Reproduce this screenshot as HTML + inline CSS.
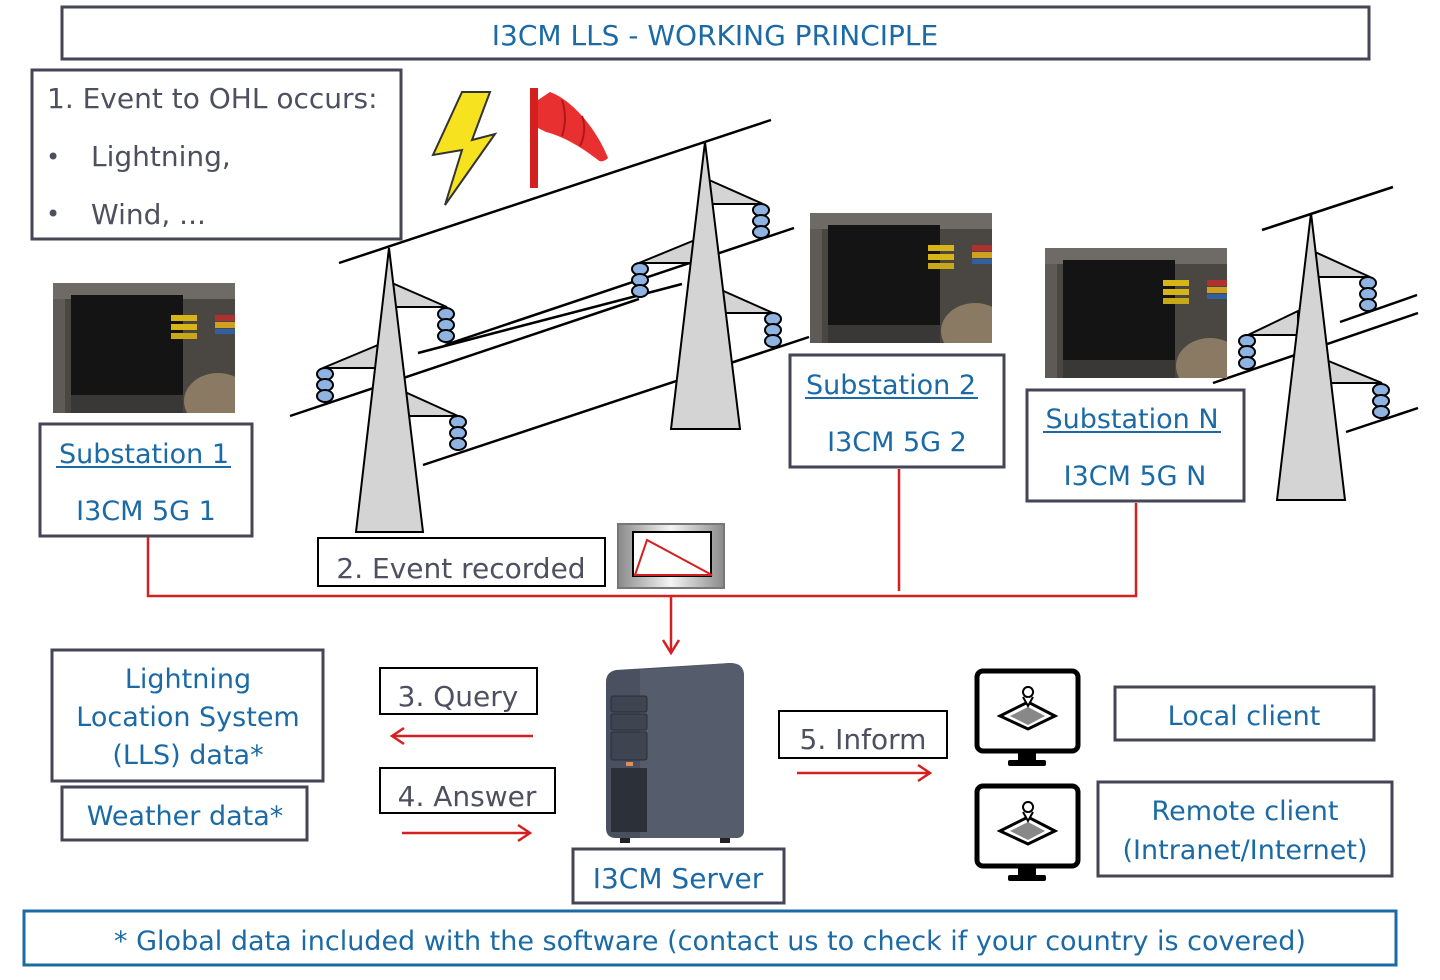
<!DOCTYPE html>
<html><head><meta charset="utf-8"><style>
html,body{margin:0;padding:0;background:#fff;width:1440px;height:980px;overflow:hidden}
svg{display:block}
text{font-family:"DejaVu Sans","Liberation Sans",sans-serif}
.b{fill:#1b6aa5}
.g{fill:#4e5060}
</style></head><body>
<svg width="1440" height="980" viewBox="0 0 1440 980" xmlns="http://www.w3.org/2000/svg">
<defs>
<clipPath id="pc"><rect x="0" y="0" width="182" height="130"/></clipPath>
<g id="photo">
<g clip-path="url(#pc)">
<rect x="0" y="0" width="182" height="130" fill="#4a4642"/>
<rect x="0" y="0" width="182" height="16" fill="#6e6a66"/>
<rect x="18" y="12" width="112" height="100" fill="#141414"/>
<rect x="118" y="32" width="26" height="6" fill="#d8b418"/>
<rect x="118" y="41" width="26" height="6" fill="#d8b418"/>
<rect x="118" y="50" width="26" height="6" fill="#c8a818"/>
<rect x="162" y="32" width="20" height="6" fill="#b03030"/>
<rect x="162" y="39" width="20" height="6" fill="#d0a020"/>
<rect x="162" y="46" width="20" height="5" fill="#3060a0"/>
<ellipse cx="165" cy="118" rx="34" ry="28" fill="#8a7a64"/>
<rect x="0" y="16" width="12" height="114" fill="#5e5a56"/>
<rect x="18" y="112" width="112" height="18" fill="#3a3836"/>
</g>
</g>
<g id="ins"><ellipse cx="0" cy="6" rx="8" ry="6" fill="#8fb4e2" stroke="#000" stroke-width="2"/><ellipse cx="0" cy="17" rx="8" ry="6" fill="#8fb4e2" stroke="#000" stroke-width="2"/><ellipse cx="0" cy="28" rx="8" ry="6" fill="#8fb4e2" stroke="#000" stroke-width="2"/></g>
<g id="mon">
<rect x="2" y="2" width="101" height="80" rx="6" fill="#fff" stroke="#000" stroke-width="5"/>
<rect x="43" y="82" width="18" height="10" fill="#000"/>
<rect x="33" y="91" width="38" height="6" rx="2" fill="#000"/>
<path d="M25 47 L53 33 L80 47 L53 60 Z" fill="#fff" stroke="#000" stroke-width="3"/>
<path d="M35 47 L53 38 L70 47 L53 56 Z" fill="#888"/>
<path d="M53 28 a5 5 0 1 1 0.1 0 M48 28 L53 37 L58 28" fill="#fff" stroke="#000" stroke-width="2"/>
</g>
</defs>

<!-- title -->
<rect x="62" y="7" width="1307" height="52" fill="none" stroke="#454555" stroke-width="3"/>
<text x="715" y="45" text-anchor="middle" class="b" font-size="28">I3CM LLS - WORKING PRINCIPLE</text>

<!-- box 1 -->
<rect x="32" y="70" width="369" height="169" fill="none" stroke="#454555" stroke-width="3"/>
<text x="47" y="108" class="g" font-size="28">1. Event to OHL occurs:</text>
<text x="46" y="165" class="g" font-size="24">•</text>
<text x="91" y="166" class="g" font-size="28">Lightning,</text>
<text x="46" y="222" class="g" font-size="24">•</text>
<text x="91" y="224" class="g" font-size="28">Wind, ...</text>

<!-- lightning -->
<path d="M462 92 L490 92 L472 140 L495 134 L445 205 L462 150 L433 155 Z" fill="#f6e21e" stroke="#333" stroke-width="2"/>
<!-- windsock -->
<rect x="530" y="88" width="8" height="100" fill="#d52020"/>
<path d="M538 100 L550 92 C572 100 596 128 608 158 C604 162 600 162 598 160 C580 146 562 136 546 132 L538 128 Z" fill="#e83030"/>
<path d="M562 100 C566 112 566 124 562 136 M582 116 C586 126 584 138 580 146" stroke="#b01818" stroke-width="2" fill="none"/>

<!-- tower lines -->
<g stroke="#000" stroke-width="2.5" fill="none">
<line x1="339" y1="263" x2="771" y2="120"/>
<line x1="290" y1="416" x2="639" y2="299"/>
<line x1="445" y1="345" x2="794" y2="228"/>
<line x1="418" y1="353" x2="682" y2="284"/>
<line x1="423" y1="465" x2="809" y2="337"/>
<line x1="1262" y1="230" x2="1393" y2="187"/>
<line x1="1213" y1="383" x2="1418" y2="313"/>
<line x1="1340" y1="322" x2="1417" y2="295"/>
<line x1="1346" y1="432" x2="1418" y2="408"/>
</g>
<g fill="#d4d4d4" stroke="#000" stroke-width="2">
<path d="M392 283 L447 307 L392 307 Z"/>
<path d="M378 345 L323 368 L378 368 Z"/>
<path d="M405 392 L458 416 L405 416 Z"/>
<path d="M389 248 L423 532 L356 532 Z"/>
<path d="M709 180 L763 204 L709 204 Z"/>
<path d="M695 240 L639 263 L695 263 Z"/>
<path d="M719 289 L773 313 L719 313 Z"/>
<path d="M705 142 L740 429 L671 429 Z"/>
<path d="M1315 252 L1370 277 L1315 277 Z"/>
<path d="M1298 311 L1248 335 L1298 335 Z"/>
<path d="M1326 360 L1382 383 L1326 383 Z"/>
<path d="M1311 213 L1345 500 L1277 500 Z"/>
</g>
<use href="#ins" x="446" y="308"/>
<use href="#ins" x="325" y="368"/>
<use href="#ins" x="458" y="416"/>
<use href="#ins" x="761" y="204"/>
<use href="#ins" x="640" y="263"/>
<use href="#ins" x="773" y="313"/>
<use href="#ins" x="1368" y="277"/>
<use href="#ins" x="1247" y="335"/>
<use href="#ins" x="1381" y="384"/>

<!-- photos -->
<use href="#photo" x="53" y="283"/>
<use href="#photo" x="810" y="213"/>
<use href="#photo" x="1045" y="248"/>

<!-- substation boxes -->
<rect x="40" y="424" width="212" height="112" fill="#fff" stroke="#454555" stroke-width="3"/>
<text x="144" y="463" text-anchor="middle" class="b" font-size="27">Substation 1</text>
<line x1="56" y1="467" x2="231" y2="467" stroke="#1b6aa5" stroke-width="2"/>
<text x="146" y="520" text-anchor="middle" class="b" font-size="27">I3CM 5G 1</text>

<rect x="790" y="355" width="214" height="112" fill="#fff" stroke="#454555" stroke-width="3"/>
<text x="891" y="394" text-anchor="middle" class="b" font-size="27">Substation 2</text>
<line x1="805" y1="398" x2="978" y2="398" stroke="#1b6aa5" stroke-width="2"/>
<text x="897" y="451" text-anchor="middle" class="b" font-size="27">I3CM 5G 2</text>

<rect x="1027" y="390" width="217" height="111" fill="#fff" stroke="#454555" stroke-width="3"/>
<text x="1132" y="428" text-anchor="middle" class="b" font-size="27">Substation N</text>
<line x1="1043" y1="432" x2="1221" y2="432" stroke="#1b6aa5" stroke-width="2"/>
<text x="1135" y="485" text-anchor="middle" class="b" font-size="27">I3CM 5G N</text>

<!-- red bus -->
<g stroke="#d42020" stroke-width="2.5" fill="none">
<polyline points="148,537 148,596 1136,596 1136,503"/>
<line x1="899" y1="469" x2="899" y2="591"/>
<line x1="671" y1="596" x2="671" y2="652"/>
<polyline points="663,640 671,653 679,640"/>
<line x1="392" y1="736" x2="533" y2="736"/>
<polyline points="404,728 392,736 404,744"/>
<line x1="402" y1="833" x2="530" y2="833"/>
<polyline points="518,825 530,833 518,841"/>
<line x1="797" y1="773" x2="930" y2="773"/>
<polyline points="918,765 930,773 918,781"/>
</g>

<!-- event recorded -->
<rect x="318" y="538" width="287" height="48" fill="#fff" stroke="#000" stroke-width="2"/>
<text x="461" y="578" text-anchor="middle" class="g" font-size="28">2. Event recorded</text>
<defs><linearGradient id="gr" x1="0" x2="1"><stop offset="0" stop-color="#8a8a8a"/><stop offset="0.5" stop-color="#f4f4f4"/><stop offset="1" stop-color="#8a8a8a"/></linearGradient></defs>
<rect x="618" y="524" width="106" height="64" fill="url(#gr)" stroke="#777" stroke-width="2"/>
<rect x="633" y="532" width="78" height="44" fill="#fff" stroke="#000" stroke-width="2"/>
<path d="M635 575 L647 540 L712 575 Z" fill="none" stroke="#d42020" stroke-width="2"/>

<!-- LLS -->
<rect x="52" y="650" width="271" height="131" fill="none" stroke="#454555" stroke-width="3"/>
<text x="188" y="688" text-anchor="middle" class="b" font-size="27">Lightning</text>
<text x="188" y="726" text-anchor="middle" class="b" font-size="27">Location System</text>
<text x="188" y="764" text-anchor="middle" class="b" font-size="27">(LLS) data*</text>
<rect x="62" y="787" width="245" height="53" fill="none" stroke="#454555" stroke-width="3"/>
<text x="185" y="825" text-anchor="middle" class="b" font-size="27">Weather data*</text>

<rect x="380" y="668" width="157" height="46" fill="none" stroke="#000" stroke-width="2"/>
<text x="458" y="706" text-anchor="middle" class="g" font-size="28">3. Query</text>
<rect x="380" y="768" width="175" height="45" fill="none" stroke="#000" stroke-width="2"/>
<text x="467" y="806" text-anchor="middle" class="g" font-size="28">4. Answer</text>

<!-- server -->
<path d="M606 682 Q606 672 616 670 L730 663 Q744 663 744 676 L744 830 Q744 838 736 838 L616 838 Q606 838 606 828 Z" fill="#4a5060"/>
<path d="M640 670 L730 663 Q744 663 744 676 L744 830 Q744 838 736 838 L640 838 Z" fill="#555c6c"/>
<rect x="611" y="696" width="36" height="16" rx="2" fill="#3e4450" stroke="#2a2e36"/>
<rect x="611" y="714" width="36" height="16" rx="2" fill="#3e4450" stroke="#2a2e36"/>
<rect x="611" y="732" width="36" height="28" rx="2" fill="#3e4450" stroke="#2a2e36"/>
<rect x="626" y="762" width="7" height="4" fill="#d89060"/>
<rect x="611" y="768" width="36" height="64" fill="#2c3038"/>
<rect x="620" y="838" width="10" height="5" fill="#222"/><rect x="720" y="838" width="10" height="5" fill="#222"/>
<rect x="573" y="849" width="211" height="54" fill="#fff" stroke="#454555" stroke-width="3"/>
<text x="678" y="888" text-anchor="middle" class="b" font-size="28">I3CM Server</text>

<!-- inform -->
<rect x="779" y="711" width="168" height="47" fill="none" stroke="#000" stroke-width="2"/>
<text x="863" y="749" text-anchor="middle" class="g" font-size="28">5. Inform</text>

<use href="#mon" x="975" y="669"/>
<use href="#mon" x="975" y="784"/>

<rect x="1115" y="687" width="259" height="53" fill="none" stroke="#454555" stroke-width="3"/>
<text x="1244" y="725" text-anchor="middle" class="b" font-size="27">Local client</text>
<rect x="1098" y="782" width="294" height="94" fill="none" stroke="#454555" stroke-width="3"/>
<text x="1245" y="820" text-anchor="middle" class="b" font-size="27">Remote client</text>
<text x="1245" y="859" text-anchor="middle" class="b" font-size="27">(Intranet/Internet)</text>

<!-- footer -->
<rect x="24" y="911" width="1372" height="54" fill="none" stroke="#1b6aa5" stroke-width="3"/>
<text x="710" y="950" text-anchor="middle" class="b" font-size="27">* Global data included with the software (contact us to check if your country is covered)</text>
</svg>
</body></html>
